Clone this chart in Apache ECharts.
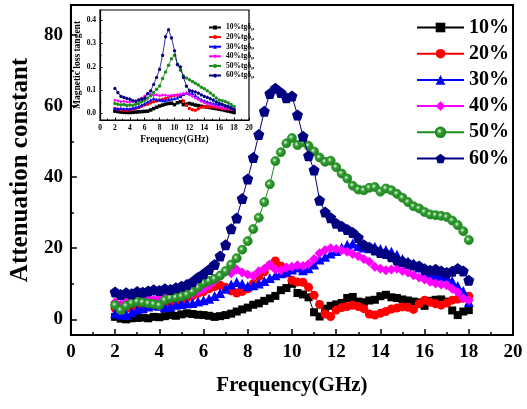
<!DOCTYPE html>
<html><head><meta charset="utf-8">
<script src="https://cdn.jsdelivr.net/npm/echarts@6/dist/echarts.min.js"></script>
<style>html,body{margin:0;padding:0;background:#fff}#c{width:527px;height:409px}</style>
</head><body><div id="c"></div>
<script>
// ---------- data ----------
const seriesNames = ['10%', '20%', '30%', '40%', '50%', '60%'];
const insetNames = ['10%tgδμ', '20%tgδμ', '30%tgδμ', '40%tgδμ', '50%tgδμ', '60%tgδμ'];
const xTicks = [0, 2, 4, 6, 8, 10, 12, 14, 16, 18, 20];
const yTicks = [0, 20, 40, 60, 80];
const yMinorTicks = [10, 30, 50, 70];
const insetYTicks = [0, 0.1, 0.2, 0.3, 0.4];
const insetYMinorTicks = [0.05, 0.15, 0.25, 0.35];

const freq = [2, 2.25, 2.5, 2.75, 3, 3.25, 3.5, 3.75, 4, 4.25, 4.5, 4.75, 5, 5.25, 5.5, 5.75, 6, 6.25, 6.5, 6.75,
  7, 7.25, 7.5, 7.75, 8, 8.25, 8.5, 8.75, 9, 9.25, 9.5, 9.75, 10, 10.25, 10.5, 10.75, 11, 11.25, 11.5, 11.75,
  12, 12.25, 12.5, 12.75, 13, 13.25, 13.5, 13.75, 14, 14.25, 14.5, 14.75, 15, 15.25, 15.5, 15.75, 16, 16.25, 16.5, 16.75,
  17, 17.25, 17.5, 17.75, 18];

const att10 = [0.7,0.2,0.0,0.3,0.4,0.5,0.3,0.7,0.6,0.9, 1.2,1.0,1.4,1.7,1.5,1.3,1.2,1.0,0.7,0.9,
  1.2,1.6,2.2,2.8,3.3,4.1,4.5,5.2,5.9,6.6, 8.2,8.8,10.0,7.4,7.0,6.2,2.0,0.8,3.0,3.8,
  4.2,4.6,6.0,6.3,5.0,4.8,5.3,5.5,6.5,6.9, 6.2,6.0,5.6,5.3,5.0,4.8,3.8,5.2,5.5,5.6,
  5.0,2.5,1.2,2.2,2.6];
const att20 = [3.1,2.6,3.0,3.4,3.8,3.5,4.0,4.3,4.2,4.6, 4.8,5.0,5.3,6.0,6.6,7.3,7.8,8.6,9.2,9.6,
  9.0,8.0,7.4,7.8,8.6,10.0,12.0,13.4,15.2,16.4, 15.0,13.0,11.0,10.5,10.4,9.0,6.8,4.2,1.5,0.8,
  2.6,3.3,3.6,4.0,3.6,3.0,1.5,1.2,1.7,2.2, 2.9,3.2,3.5,3.4,2.8,4.4,5.4,4.8,4.4,4.0,
  4.6,5.4,5.7,5.9,6.5];
const att30 = [1.7,1.4,1.2,2.0,2.8,3.2,3.6,4.0,3.8,3.4, 3.6,4.1,4.3,4.5,4.6,5.0,5.4,5.8,6.6,7.4,
  8.6,9.8,10.5,10.0,9.3,9.6,10.1,10.8,11.6,12.4, 13.0,13.4,14.0,14.6,13.8,14.4,15.4,16.8,17.6,18.5,
  19.2,20.2,21.0,21.3,20.6,20.2,20.0,20.4,19.8,19.5, 19.0,18.2,17.0,16.3,15.7,14.6,13.2,12.8,12.4,12.2,
  12.0,10.8,9.4,8.0,4.9];
const att40 = [4.8,4.2,5.0,5.4,5.6,5.2,5.8,5.5,5.9,6.1, 5.8,6.4,6.6,6.9,7.2,7.8,8.4,9.5,10.8,12.2,
  13.4,13.0,14.0,13.2,12.6,12.2,13.5,14.2,15.4,14.0, 13.8,14.6,14.8,15.2,15.0,15.6,17.0,18.6,19.5,20.0,
  19.8,19.4,19.0,18.4,17.8,17.0,16.2,14.8,14.2,13.8, 14.0,14.2,13.6,13.2,12.4,11.8,11.2,10.6,10.1,9.8,
  9.6,8.6,7.6,5.9,5.4];
const att50 = [4.0,2.6,3.8,4.6,5.0,4.8,4.5,4.3,4.0,5.4, 6.0,6.2,6.5,7.0,7.8,9.0,10.2,10.8,11.4,12.3,
  13.6,15.4,17.2,19.6,22.0,25.4,28.6,33.0,38.0,44.5, 47.0,49.5,51.0,49.0,49.8,48.8,47.2,45.5,44.3,44.6,
  42.8,41.0,39.6,37.6,36.5,36.3,37.0,37.2,35.9,36.8, 36.3,35.3,34.2,33.0,31.8,31.2,30.2,29.5,29.3,29.1,
  28.8,27.8,26.5,24.8,22.3];
const att60 = [7.7,7.0,7.5,7.2,7.8,7.6,8.0,8.3,8.1,8.6, 8.4,8.9,9.3,9.8,10.6,11.8,12.8,14.0,15.4,17.8,
  21.0,25.5,28.5,34.0,39.5,45.5,52.0,58.5,63.5,65.0, 63.8,62.3,62.8,57.5,51.5,46.0,42.0,33.5,30.2,28.6,
  27.0,26.2,25.3,24.4,23.0,21.0,20.3,19.5,18.8,18.5, 17.6,16.7,16.3,15.8,15.3,15.0,14.2,13.8,14.1,13.6,
  13.2,13.5,14.3,13.6,11.0];

const insetFreq = [2.0,2.4,2.8,3.2,3.6,4.0,4.4,4.8,5.2,5.6, 6.0,6.4,6.8,7.2,7.6,8.0,8.4,8.8,9.2,9.6,
  10.0,10.4,10.8,11.2,11.6,12.0,12.4,12.8,13.2,13.6, 14.0,14.4,14.8,15.2,15.6,16.0,16.4,16.8,17.2,17.6, 18.0];
const tan10 = [.01,.008,.006,.005,.004,.004,.005,.006,.007,.008, .009,.01,.015,.021,.027,.032,.036,.04,.043,.044,
  .038,.046,.05,.038,.04,.043,.04,.036,.034,.031, .029,.027,.025,.023,.021,.018,.016,.013,.01,.007, .004];
const tan20 = [.021,.018,.016,.014,.014,.015,.018,.022,.026,.031, .036,.04,.046,.05,.054,.058,.06,.064,.07,.075,
  .077,.078,.074,.054,.035,.021,.016,.014,.02,.027, .029,.028,.029,.029,.026,.024,.021,.02,.019,.018, .018];
const tan30 = [.021,.02,.022,.02,.021,.02,.024,.026,.03,.036, .043,.05,.058,.064,.06,.058,.056,.057,.06,.062,
  .064,.068,.074,.082,.088,.088,.086,.078,.068,.06, .055,.05,.046,.043,.04,.038,.037,.036,.034,.028, .021];
const tan40 = [.057,.055,.05,.052,.049,.05,.051,.055,.06,.066, .075,.086,.082,.078,.08,.076,.079,.078,.075,.077,
  .078,.08,.082,.086,.088,.08,.074,.066,.06,.052, .046,.042,.038,.034,.03,.027,.024,.021,.02,.018, .016];
const tan50 = [.043,.04,.036,.038,.034,.036,.035,.04,.043,.05, .057,.066,.076,.09,.104,.118,.15,.178,.207,.235,
  .25,.21,.185,.162,.152,.145,.137,.13,.122,.113, .106,.098,.088,.078,.066,.058,.055,.051,.046,.038, .03];
const tan60 = [.108,.09,.074,.07,.065,.062,.056,.052,.058,.062, .066,.086,.098,.125,.155,.19,.25,.33,.36,.325,
  .27,.21,.2,.155,.118,.1,.096,.093,.088,.08, .074,.07,.064,.058,.05,.044,.04,.033,.028,.022, .016];

// ---------- styles ----------
const FONT = 'Liberation Serif';
const colors = ['#000000', '#ff0000', '#0000ff', '#ff00ff', '#1e8c1e', '#000080'];
const pentagon = 'path://M0,-1 L0.951,-0.309 L0.588,0.809 L-0.588,0.809 L-0.951,-0.309 Z';
const symbols = ['rect', 'circle', 'triangle', 'diamond', 'circle', pentagon];
const mainSizes = [8, 9, 10, 10, 9, 11];
const insetSizes = [3.5, 3.5, 3.5, 3.5, 3.5, 3.5];
const greenBall = {type: 'radial', x: 0.4, y: 0.4, r: 0.6,
  colorStops: [{offset: 0, color: '#e8ffe8'}, {offset: 0.35, color: '#3aa03a'}, {offset: 1, color: '#1a7a1a'}]};

const mainVals = [att10, att20, att30, att40, att50, att60];
const insetVals = [tan10, tan20, tan30, tan40, tan50, tan60];

const bold = (size) => ({fontFamily: FONT, fontWeight: 'bold', fontSize: size, color: '#000'});

const series = [];
mainVals.forEach((vals, k) => {
  series.push({
    name: seriesNames[k], type: 'line', xAxisIndex: 0, yAxisIndex: 0,
    data: freq.map((f, i) => [f, vals[i]]),
    symbol: symbols[k], symbolSize: mainSizes[k], showAllSymbol: true,
    lineStyle: {color: colors[k], width: 1},
    itemStyle: {color: k === 4 ? greenBall : colors[k], borderColor: colors[k], borderWidth: k === 4 ? 0.8 : 0},
    emphasis: {disabled: true}, animation: false, z: 2 + k
  });
});
insetVals.forEach((vals, k) => {
  series.push({
    name: insetNames[k], type: 'line', xAxisIndex: 1, yAxisIndex: 2,
    data: insetFreq.map((f, i) => [f, vals[i]]),
    symbol: symbols[k], symbolSize: insetSizes[k], showAllSymbol: true,
    lineStyle: {color: colors[k], width: 0.8},
    itemStyle: {color: colors[k]},
    emphasis: {disabled: true}, animation: false, z: 10 + k
  });
});

const option = {
  backgroundColor: '#fff',
  animation: false,
  grid: [
    {left: 70, top: 5, width: 443, height: 330, show: true, borderColor: '#000', borderWidth: 2, backgroundColor: 'transparent'},
    {left: 100, top: 10, width: 149, height: 110, show: true, borderColor: '#000', borderWidth: 1.2, backgroundColor: '#fff', z: 5}
  ],
  xAxis: [
    {gridIndex: 0, type: 'value', min: 0, max: 20, interval: 2,
      axisLine: {show: true, onZero: false, lineStyle: {color: '#000', width: 2}},
      axisTick: {show: true, inside: true, length: 6, lineStyle: {color: '#000', width: 1.5}},
      minorTick: {show: true, splitNumber: 2, length: 3, lineStyle: {color: '#000', width: 1.5}},
      axisLabel: Object.assign({margin: 8}, bold(19)),
      splitLine: {show: false},
      name: 'Frequency(GHz)', nameLocation: 'middle', nameGap: 40, nameTextStyle: bold(21)},
    {gridIndex: 1, type: 'value', min: 0, max: 20, interval: 2,
      axisLine: {show: true, onZero: false, lineStyle: {color: '#000', width: 1.2}},
      axisTick: {show: true, inside: true, length: 2.5, lineStyle: {color: '#000', width: 1}},
      minorTick: {show: true, splitNumber: 2, length: 1.5, lineStyle: {color: '#000', width: 0.8}},
      axisLabel: Object.assign({margin: 4}, bold(7.5)),
      splitLine: {show: false},
      name: 'Frequency(GHz)', nameLocation: 'middle', nameGap: 15, nameTextStyle: bold(9.5), z: 6}
  ],
  yAxis: [
    {gridIndex: 0, type: 'value', min: -4.4, max: 88.4, position: 'left',
      axisLine: {show: true, onZero: false, lineStyle: {color: '#000', width: 2}},
      axisTick: {show: true, inside: true, length: 6, customValues: yTicks, lineStyle: {color: '#000', width: 1.5}},
      axisLabel: Object.assign({margin: 8, customValues: yTicks}, bold(19)),
      splitLine: {show: false},
      name: 'Attenuation constant', nameLocation: 'middle', nameGap: 30, nameTextStyle: bold(25)},
    {gridIndex: 0, type: 'value', min: -4.4, max: 88.4, position: 'left', offset: 0,
      axisLine: {show: false},
      axisTick: {show: true, inside: true, length: 3, customValues: yMinorTicks, lineStyle: {color: '#000', width: 1.5}},
      axisLabel: {show: false}, splitLine: {show: false}},
    {gridIndex: 1, type: 'value', min: -0.028, max: 0.444, position: 'left',
      axisLine: {show: true, onZero: false, lineStyle: {color: '#000', width: 1.2}},
      axisTick: {show: true, inside: true, length: 2.5, customValues: insetYTicks, lineStyle: {color: '#000', width: 1}},
      axisLabel: Object.assign({margin: 4, customValues: insetYTicks, formatter: v => v.toFixed(1)}, bold(7.5)),
      splitLine: {show: false},
      name: 'Magnetic loss tangent', nameLocation: 'middle', nameGap: 17, nameTextStyle: bold(9.5), z: 6},
    {gridIndex: 1, type: 'value', min: -0.028, max: 0.444, position: 'left', offset: 0,
      axisLine: {show: false},
      axisTick: {show: true, inside: true, length: 1.5, customValues: insetYMinorTicks, lineStyle: {color: '#000', width: 0.8}},
      axisLabel: {show: false}, splitLine: {show: false}, z: 6}
  ],
  legend: [
    {data: seriesNames, orient: 'vertical', left: 411, top: 12, itemWidth: 47, itemHeight: 12, itemGap: 5.2,
      textStyle: Object.assign({lineHeight: 21}, bold(20)), selectedMode: false, inactiveColor: '#000'},
    {data: insetNames, orient: 'vertical', left: 203, top: 18.5, itemWidth: 12, itemHeight: 5, itemGap: 1.6,
      selectedMode: false, z: 8,
      formatter: name => '{a|' + name.slice(0, -1) + '}{s|' + name.slice(-1) + '}',
      textStyle: {rich: {
        a: {fontFamily: FONT, fontWeight: 'bold', fontSize: 7.5, color: '#000', lineHeight: 8},
        s: {fontFamily: FONT, fontWeight: 'bold', fontSize: 5, color: '#000', lineHeight: 8, verticalAlign: 'bottom', padding: [2, 0, 0, 0]}
      }}}
  ],
  series: series
};

const chart = echarts.init(document.getElementById('c'), null, {renderer: 'canvas', width: 527, height: 409});
chart.setOption(option);
</script></body></html>
